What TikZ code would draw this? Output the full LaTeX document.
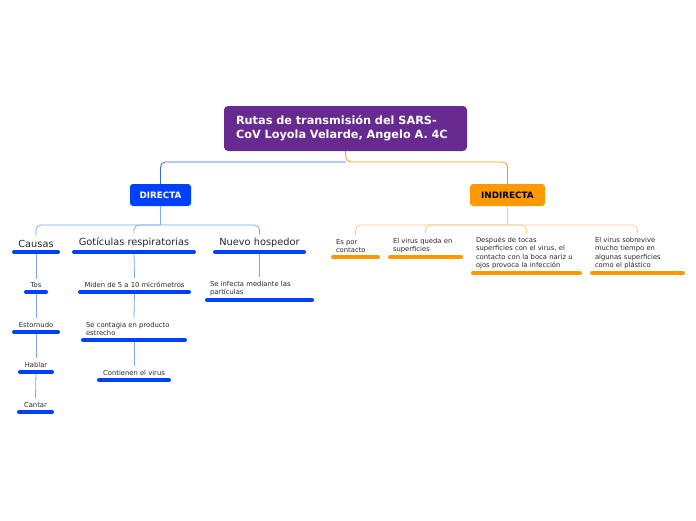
\documentclass[tikz,border=0pt]{standalone}
\usepackage{fontspec}
\setmainfont{DejaVu Sans}
\usetikzlibrary{positioning}
\definecolor{rootpurple}{RGB}{102,42,144}
\definecolor{directblue}{RGB}{0,64,255}
\definecolor{indirectorange}{RGB}{255,153,0}
\definecolor{bluelinkc}{RGB}{125,165,255}
\definecolor{orangelinkc}{RGB}{255,200,130}
\definecolor{leafgrey}{RGB}{40,40,40}
\tikzset{
  rootbox/.style={fill=rootpurple, rounded corners=4pt, text=white, align=left,
    font=\bfseries\fontsize{11.3}{14}\selectfont, text width=219pt,
    inner xsep=12pt, minimum height=45pt},
  mainbox/.style={rounded corners=3pt, font=\bfseries\fontsize{8.8}{9}\selectfont,
    minimum height=22pt, inner sep=0pt},
  topic/.style={anchor=south, font=\fontsize{9.8}{11}\selectfont, text=black!85,
    inner xsep=0pt, inner ysep=4pt},
  leaf/.style={anchor=south, font=\fontsize{6.8}{8.3}\selectfont, text=leafgrey,
    inner xsep=0pt, inner ysep=4pt},
  leafml/.style={leaf, align=left, inner xsep=5pt},
  bluebar/.style={draw=directblue, line width=3.5pt, line cap=round},
  orangebar/.style={draw=indirectorange, line width=3.5pt, line cap=round},
  bluelink/.style={draw=bluelinkc, line width=0.8pt},
  orangelink/.style={draw=orangelinkc, line width=0.8pt}
}
\begin{document}
\begin{tikzpicture}[x=1pt, y=-1pt]
\useasboundingbox (0,0) rectangle (696,520);

% Root
\node[rootbox] (root) at (345.5,128.5) {Rutas de transmisión del SARS-\\CoV Loyola Velarde, Angelo A. 4C};

% Main branches
\node[mainbox, fill=directblue, text=white, minimum width=61pt] (directa) at (160.5,195) {DIRECTA};
\node[mainbox, fill=indirectorange, text=black, minimum width=75pt] (indirecta) at (507.5,195) {INDIRECTA};
\coordinate (rootsplit) at (346,162);
\draw[draw=directblue!80, line width=0.8pt, rounded corners=5pt] (rootsplit) -| (directa.north);
\draw[draw=indirectorange, line width=0.8pt, rounded corners=5pt] (root.south) -- (rootsplit) -| (indirecta.north);

% Directa topics
\node[topic, minimum width=48pt] (causas) at (36,252) {Causas};
\node[topic, minimum width=124pt] (goticulas) at (134,252) {Gotículas respiratorias};
\node[topic, minimum width=93pt] (hospedor) at (259.5,252) {Nuevo hospedor};

% Causas
\node[leaf, minimum width=24pt] (tos) at (36,292) {Tos};
\node[leaf, minimum width=48pt] (estornudo) at (36,332) {Estornudo};
\node[leaf, minimum width=36pt] (hablar) at (36,372) {Hablar};
\node[leaf, minimum width=37pt] (cantar) at (35.5,412) {Cantar};

% Goticulas
\node[leaf, minimum width=113pt] (miden) at (134.5,292) {Miden de 5 a 10 micrómetros};
\node[leafml, text width=96pt] (contagia) at (134,340) {Se contagia en producto\\estrecho};
\node[leaf, minimum width=74pt] (contienen) at (134,380) {Contienen el virus};

% Hospedor
\node[leafml, text width=99pt] (infecta) at (259.5,300) {Se infecta mediante las\\partículas};

% Indirecta
\node[leafml, text width=39pt] (contacto) at (355.5,257) {Es por\\contacto};
\node[leafml, text width=65pt] (superficie) at (425.5,257) {El virus queda en\\superficies};
\node[leafml, text width=101pt] (despues) at (526.5,273) {Después de tocas\\superficies con el virus, el\\contacto con la boca nariz u\\ojos provoca la infección};
\node[leafml, text width=85pt] (sobrevive) at (637.5,273) {El virus sobrevive\\mucho tiempo en\\algunas superficies\\como el plástico};

% Links
\coordinate (dsplit) at (160.5,225);
\coordinate (isplit) at (507.5,225);
\draw[bluelink] (directa.south) -- (dsplit);
\foreach \t in {causas, goticulas, hospedor}
  \draw[bluelink, rounded corners=5pt] (dsplit) -| (\t.north);
\draw[orangelink] (indirecta.south) -- (isplit);
\foreach \t in {contacto, superficie, despues, sobrevive}
  \draw[orangelink, rounded corners=5pt] (isplit) -| (\t.north);
\draw[bluelink] (causas.south) -- (tos.north);
\draw[bluelink] (tos.south) -- (estornudo.north);
\draw[bluelink] (estornudo.south) -- (hablar.north);
\draw[bluelink] (hablar.south) -- (cantar.north);
\draw[bluelink] (goticulas.south) -- (miden.north);
\draw[bluelink] (miden.south) -- (contagia.north);
\draw[bluelink] (contagia.south) -- (contienen.north);
\draw[bluelink] (hospedor.south) -- (infecta.north);

% Bars
\foreach \t in {causas, goticulas, hospedor, tos, estornudo, hablar, cantar, miden, contagia, contienen, infecta}
  \draw[bluebar] ([xshift=2pt]\t.south west) -- ([xshift=-2pt]\t.south east);
\foreach \t in {contacto, superficie, despues, sobrevive}
  \draw[orangebar] ([xshift=2pt]\t.south west) -- ([xshift=-2pt]\t.south east);
\end{tikzpicture}
\end{document}
